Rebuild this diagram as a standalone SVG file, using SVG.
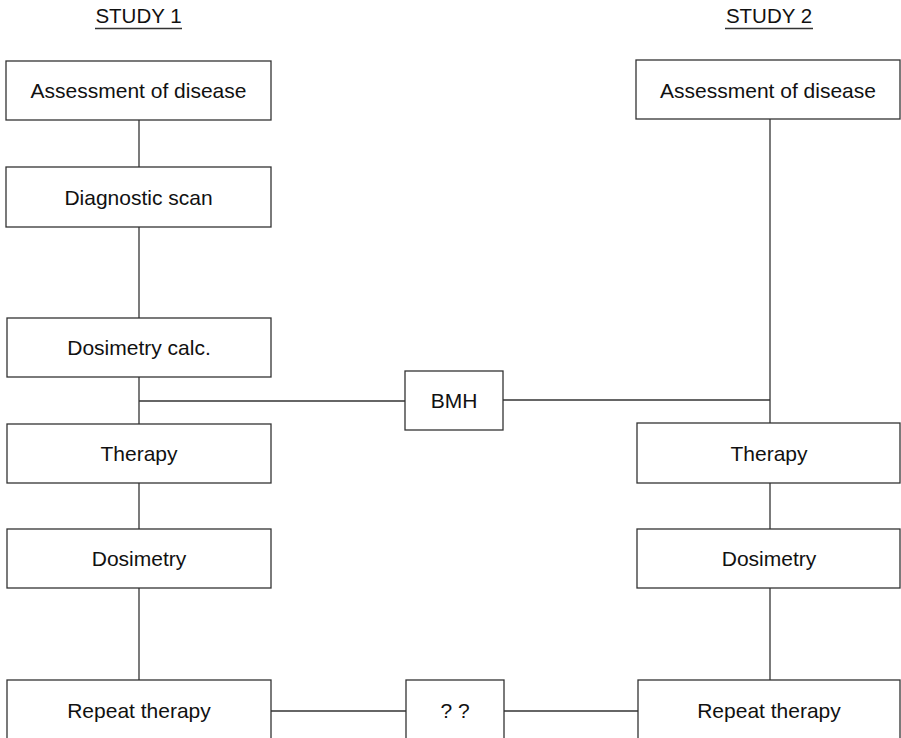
<svg xmlns="http://www.w3.org/2000/svg" width="901" height="738" viewBox="0 0 901 738">
<style>
.box{fill:#fff;stroke:#333;stroke-width:1.3}
.lbl{font-family:"Liberation Sans",Arial,sans-serif;font-size:21px;fill:#111;text-anchor:middle}
.hdr{font-family:"Liberation Sans",Arial,sans-serif;font-size:20.5px;fill:#111;text-anchor:middle}
.conn line{stroke:#333;stroke-width:1.3}
.ul{stroke:#333;stroke-width:1.3}
</style>
<rect width="901" height="738" fill="#fff"/>
<g id="headers">
<text class="hdr" x="138.5" y="23">STUDY 1</text>
<line class="ul" x1="95" y1="28.5" x2="182" y2="28.5"/>
<text class="hdr" x="769" y="23">STUDY 2</text>
<line class="ul" x1="725" y1="28.5" x2="813" y2="28.5"/>
</g>
<g id="connectors" class="conn">
<line x1="139" y1="120" x2="139" y2="167"/>
<line x1="139" y1="227" x2="139" y2="318"/>
<line x1="139" y1="377" x2="139" y2="424"/>
<line x1="139" y1="483" x2="139" y2="529"/>
<line x1="139" y1="588" x2="139" y2="680"/>
<line x1="770" y1="119" x2="770" y2="423"/>
<line x1="770" y1="483" x2="770" y2="529"/>
<line x1="770" y1="588" x2="770" y2="680"/>
<line x1="139" y1="401" x2="405" y2="401"/>
<line x1="503" y1="400" x2="770" y2="400"/>
<line x1="271" y1="711" x2="406" y2="711"/>
<line x1="504" y1="711" x2="638" y2="711"/>
</g>
<g id="s1-assessment"><rect class="box" x="6" y="61" width="265" height="59"/><text class="lbl" x="138.5" y="98">Assessment of disease</text></g>
<g id="s1-diagnostic"><rect class="box" x="6" y="167" width="265" height="60"/><text class="lbl" x="138.5" y="204.5">Diagnostic scan</text></g>
<g id="s1-dosimetry-calc"><rect class="box" x="7" y="318" width="264" height="59"/><text class="lbl" x="139" y="355">Dosimetry calc.</text></g>
<g id="s1-therapy"><rect class="box" x="7" y="424" width="264" height="59"/><text class="lbl" x="139" y="461">Therapy</text></g>
<g id="s1-dosimetry"><rect class="box" x="7" y="529" width="264" height="59"/><text class="lbl" x="139" y="566">Dosimetry</text></g>
<g id="s1-repeat"><rect class="box" x="7" y="680" width="264" height="70"/><text class="lbl" x="139" y="718">Repeat therapy</text></g>
<g id="bmh"><rect class="box" x="405" y="371" width="98" height="59"/><text class="lbl" x="454" y="408">BMH</text></g>
<g id="qq"><rect class="box" x="406" y="680" width="98" height="70"/><text class="lbl" x="455" y="718">? ?</text></g>
<g id="s2-assessment"><rect class="box" x="636" y="60" width="264" height="59"/><text class="lbl" x="768" y="97.5">Assessment of disease</text></g>
<g id="s2-therapy"><rect class="box" x="637" y="423" width="263" height="60"/><text class="lbl" x="769" y="461">Therapy</text></g>
<g id="s2-dosimetry"><rect class="box" x="637" y="529" width="263" height="59"/><text class="lbl" x="769" y="566">Dosimetry</text></g>
<g id="s2-repeat"><rect class="box" x="638" y="680" width="262" height="70"/><text class="lbl" x="769" y="718">Repeat therapy</text></g>
</svg>
